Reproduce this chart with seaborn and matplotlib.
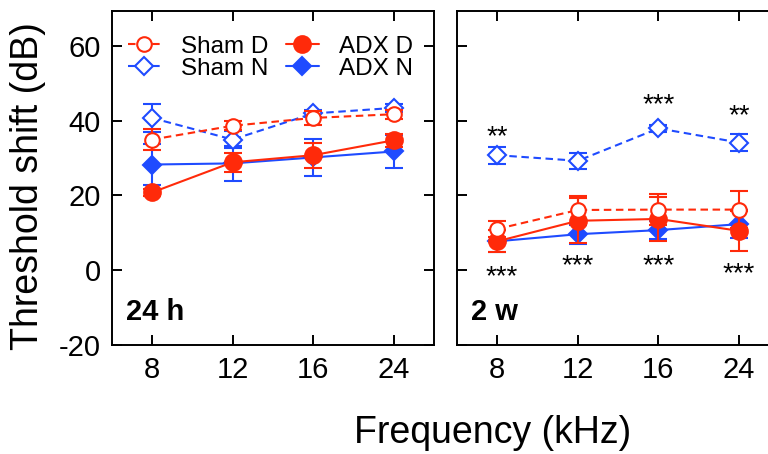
import numpy as np
import pandas as pd
import matplotlib
matplotlib.use("Agg")
import matplotlib.pyplot as plt
import seaborn as sns

# ---------------- data ----------------
freqs = ["8", "12", "16", "24"]

h24_sham_d = [35.0, 38.7, 40.8, 41.8]
h24_sham_d_err = [2.7, 1.2, 1.9, 1.2]
h24_sham_n = [40.8, 35.0, 42.0, 43.5]
h24_sham_n_err = [3.7, 2.2, 1.0, 1.0]
h24_adx_d = [20.8, 28.9, 30.8, 34.8]
h24_adx_d_err = [1.0, 2.6, 3.3, 1.8]
h24_adx_n = [28.3, 28.6, 30.2, 31.8]
h24_adx_n_err = [5.4, 4.6, 4.9, 4.5]

w2_sham_d = [11.0, 16.1, 16.2, 16.2]
w2_sham_d_err = [2.2, 3.8, 4.2, 4.9]
w2_sham_n = [30.8, 29.3, 38.0, 34.2]
w2_sham_n_err = [2.3, 2.2, 1.0, 2.2]
w2_adx_d = [7.7, 13.2, 13.7, 10.5]
w2_adx_d_err = [3.0, 6.0, 6.0, 5.3]
w2_adx_n = [7.7, 9.6, 10.7, 12.3]
w2_adx_n_err = [3.0, 2.5, 2.5, 3.7]

# significance annotations (2 w panel)
stars_top_idx = [0, 2, 3]
stars_top_txt = ["**", "***", "**"]
stars_top_y = [33.8, 42.3, 39.3]
stars_bot_idx = [0.06, 1, 2, 3]
stars_bot_txt = ["***", "***", "***", "***"]
stars_bot_y = [-3.8, -0.8, -0.8, -3.0]

RED = "#ff2a0a"
BLUE = "#1f4bff"

sns.set_style("ticks")
plt.rcParams["font.family"] = ["Liberation Sans", "DejaVu Sans"]
plt.rcParams["axes.unicode_minus"] = False
for k in ["text.color", "axes.labelcolor", "xtick.color", "ytick.color",
          "axes.edgecolor"]:
    plt.rcParams[k] = "black"

fig = plt.figure(figsize=(7.68, 4.54), dpi=100)
axL = fig.add_axes([111.7 / 768, 109.5 / 454, 322.3 / 768, 333.5 / 454])
axR = fig.add_axes([457 / 768, 109.5 / 454, 322.3 / 768, 333.5 / 454])

x = np.arange(len(freqs))
DASH = (0, (3.6, 2.2))


def draw(ax, sd, sde, sn, sne, ad, ade, an, ane):
    specs = [
        ("ADX N", an, ane, BLUE, "D", "-", BLUE, 9.0, 3),
        ("ADX D", ad, ade, RED, "o", "-", RED, 12.0, 5),
        ("Sham N", sn, sne, BLUE, "D", DASH, "white", 9.0, 7),
        ("Sham D", sd, sde, RED, "o", DASH, "white", 10.5, 9),
    ]
    handles = {}
    for name, vals, errs, col, mk, ls, mfc, ms, z in specs:
        ax.errorbar(x, vals, yerr=errs, fmt="none", ecolor=col,
                    elinewidth=1.5, capsize=6.5, capthick=1.5, zorder=z)
        df = pd.DataFrame({"x": x, "y": vals})
        sns.lineplot(data=df, x="x", y="y", ax=ax, color=col, linestyle=ls,
                     linewidth=1.5, marker=mk, markersize=ms,
                     markerfacecolor=mfc, markeredgecolor=col,
                     markeredgewidth=1.5, legend=False, label=name,
                     zorder=z + 1)
        handles[name] = ax.get_lines()[-1]
    ax.set_xlim(-0.5, 3.5)
    ax.set_ylim(-20, 69.5)
    ax.set_xticks(x)
    ax.set_xticklabels(freqs)
    ax.set_yticks([-20, 0, 20, 40, 60])
    ax.set_xlabel("")
    ax.set_ylabel("")
    ax.tick_params(axis="both", direction="in", length=7, width=1.4,
                   top=True, right=True, labelsize=21, color="black",
                   labelcolor="black")
    ax.tick_params(axis="x", pad=8.5)
    ax.tick_params(axis="y", pad=8.0)
    for s in ax.spines.values():
        s.set_visible(True)
        s.set_linewidth(1.4)
        s.set_color("black")
    return handles


hL = draw(axL, h24_sham_d, h24_sham_d_err, h24_sham_n, h24_sham_n_err,
          h24_adx_d, h24_adx_d_err, h24_adx_n, h24_adx_n_err)
draw(axR, w2_sham_d, w2_sham_d_err, w2_sham_n, w2_sham_n_err,
     w2_adx_d, w2_adx_d_err, w2_adx_n, w2_adx_n_err)
axR.tick_params(axis="y", labelleft=False)

order = ["Sham D", "Sham N", "ADX D", "ADX N"]
leg = axL.legend([hL[k] for k in order], order, ncol=2, frameon=False,
                 loc="upper left", bbox_to_anchor=(0.02, 0.955),
                 fontsize=17.5, handlelength=1.35, handletextpad=0.85,
                 columnspacing=0.7, labelspacing=0.0, borderaxespad=0)

axL.text(0.044, 0.073, "24 h", transform=axL.transAxes, fontsize=21,
         fontweight="bold", ha="left", va="baseline")
axR.text(0.0425, 0.073, "2 w", transform=axR.transAxes, fontsize=21,
         fontweight="bold", ha="left", va="baseline")

for xi, t, yi in zip(stars_top_idx, stars_top_txt, stars_top_y):
    axR.text(xi, yi, t, fontsize=20, ha="center", va="baseline", zorder=20)
for xi, t, yi in zip(stars_bot_idx, stars_bot_txt, stars_bot_y):
    axR.text(xi, yi, t, fontsize=20, ha="center", va="baseline", zorder=20)

fig.text(28 / 768, 1 - 186 / 454, "Threshold shift (dB)", rotation=90,
         fontsize=27, ha="center", va="center")
fig.text(493 / 768, 1 - 443.3 / 454, "Frequency (kHz)", fontsize=27,
         ha="center", va="baseline")

fig.savefig("out.png", dpi=100)
